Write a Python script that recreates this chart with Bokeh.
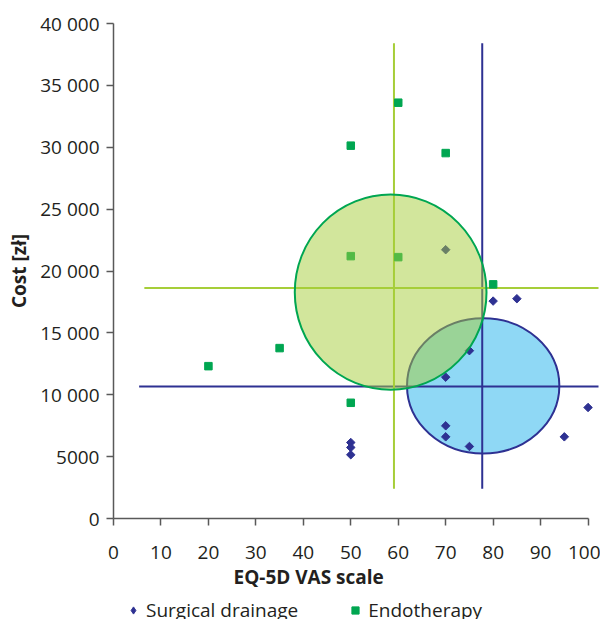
from bokeh.plotting import figure
from bokeh.layouts import column
from bokeh.models import Range1d, FixedTicker, Legend, LegendItem, Title
from bokeh.embed import file_html
from bokeh.resources import INLINE

# ---- data ----
surgical_x = [50, 50, 50, 70, 70, 70, 70, 75, 75, 80, 85, 95, 100]
surgical_y = [6140, 5740, 5150, 21720, 11420, 7490, 6600, 13560, 5820, 17570, 17760, 6600, 8970]
endo_x = [20, 35, 50, 50, 50, 60, 60, 70, 80]
endo_y = [12310, 13770, 9350, 21200, 30130, 21120, 33600, 29530, 18920]

# mean cross-hairs (x position, y position, extents)
surg_mean_x = 77.7
surg_mean_y = 10670
endo_mean_x = 59.1
endo_mean_y = 18620
surg_h_extent = [5.4, 102.5]
endo_h_extent = [6.5, 102.5]
v_extent = [2400, 38400]

# ellipses: centre x, centre y, width, height
surg_ellipse = [77.9, 10720, 32.1, 10940]
endo_ellipse = [58.4, 18290, 40.4, 15770]

x_ticks = [0, 10, 20, 30, 40, 50, 60, 70, 80, 90, 100]
y_ticks = [0, 5000, 10000, 15000, 20000, 25000, 30000, 35000, 40000]
y_tick_labels = ["0", "5000", "10 000", "15 000", "20 000", "25 000", "30 000", "35 000", "40 000"]
series_names = ["Surgical drainage", "Endotherapy"]

FONT = "Open Sans"
BLUE = "#2e3192"
GREEN = "#00a651"
LGREEN = "#a6ce39"
LBLUE = "#8fd8f5"
TXT = "#231f20"
AX = "#595959"

p = figure(width=600, height=596, x_range=Range1d(0, 102.2), y_range=Range1d(0, 40000),
           output_backend="svg", toolbar_location=None,
           min_border_left=113, min_border_right=2, min_border_top=23, min_border_bottom=78)
p.outline_line_color = None
p.xgrid.visible = False
p.ygrid.visible = False

# blue ellipse (under)
p.ellipse(x=[surg_ellipse[0]], y=[surg_ellipse[1]], width=[surg_ellipse[2]], height=[surg_ellipse[3]],
          fill_color=LBLUE, line_color=BLUE, line_width=2)

# cross-hair lines
p.segment(x0=[surg_h_extent[0]], y0=[surg_mean_y], x1=[surg_h_extent[1]], y1=[surg_mean_y],
          line_color=BLUE, line_width=2)
p.segment(x0=[surg_mean_x], y0=[v_extent[0]], x1=[surg_mean_x], y1=[v_extent[1]],
          line_color=BLUE, line_width=2)
p.segment(x0=[endo_h_extent[0]], y0=[endo_mean_y], x1=[endo_h_extent[1]], y1=[endo_mean_y],
          line_color=LGREEN, line_width=2)
p.segment(x0=[endo_mean_x], y0=[v_extent[0]], x1=[endo_mean_x], y1=[v_extent[1]],
          line_color=LGREEN, line_width=2)

# points (diamonds = squares turned 45 degrees)
p.scatter(surgical_x, surgical_y, marker="square", angle=45, angle_units="deg", size=6, color=BLUE)
p.scatter(endo_x, endo_y, marker="square", size=7.5, color=GREEN)

# green ellipse (over, translucent)
p.ellipse(x=[endo_ellipse[0]], y=[endo_ellipse[1]], width=[endo_ellipse[2]], height=[endo_ellipse[3]],
          fill_color=LGREEN, fill_alpha=0.5, line_color=GREEN, line_width=2)

# axes
for ax in (p.xaxis[0], p.yaxis[0]):
    ax.axis_line_color = AX
    ax.axis_line_width = 1.5
    ax.major_tick_line_color = AX
    ax.major_tick_line_width = 1.5
    ax.major_tick_out = 7
    ax.major_tick_in = 0
    ax.minor_tick_line_color = None
    ax.major_label_text_font = FONT
    ax.major_label_text_font_size = "19px"
    ax.major_label_text_color = TXT

p.xaxis.ticker = FixedTicker(ticks=x_ticks)
p.xaxis.bounds = (0, 100)
p.xaxis.major_label_standoff = 20
p.yaxis.ticker = FixedTicker(ticks=y_ticks)
p.yaxis.bounds = (0, 40000)
p.yaxis.major_label_standoff = 7
p.yaxis.major_label_overrides = {t: l for t, l in zip(y_ticks, y_tick_labels)}
p.yaxis.axis_label = "Cost [zł]"
p.yaxis.axis_label_text_font = FONT
p.yaxis.axis_label_text_font_size = "19px"
p.yaxis.axis_label_text_font_style = "bold"
p.yaxis.axis_label_text_color = TXT
p.yaxis.axis_label_standoff = 5

xt = Title(text="EQ-5D VAS scale", align="left", offset=120, text_font=FONT,
           text_font_size="19px", text_font_style="bold", text_color=TXT, standoff=0)
p.add_layout(xt, "below")

# legend strip below the chart (its renderers' points fall outside this strip's ranges)
p2 = figure(width=600, height=23, x_range=Range1d(0, 1), y_range=Range1d(0, 1),
            output_backend="svg", toolbar_location=None, x_axis_type=None, y_axis_type=None,
            min_border_left=113, min_border_right=2, min_border_top=0, min_border_bottom=0)
p2.outline_line_color = None
k_s = p2.scatter(surgical_x, surgical_y, marker="diamond", size=8, color=BLUE)
k_e = p2.scatter(endo_x, endo_y, marker="square", size=8, color=GREEN)
legend = Legend(items=[LegendItem(label=series_names[0], renderers=[k_s]),
                       LegendItem(label=series_names[1], renderers=[k_e])],
                orientation="horizontal", location=(7, -4),
                background_fill_alpha=0, border_line_alpha=0, padding=0, margin=0,
                spacing=44, glyph_width=26, glyph_height=18, label_standoff=0,
                label_text_font=FONT, label_text_font_size="19px", label_text_color=TXT)
p2.add_layout(legend, "center")

open("out.html", "w").write(file_html(column(p, p2, spacing=0), INLINE))
